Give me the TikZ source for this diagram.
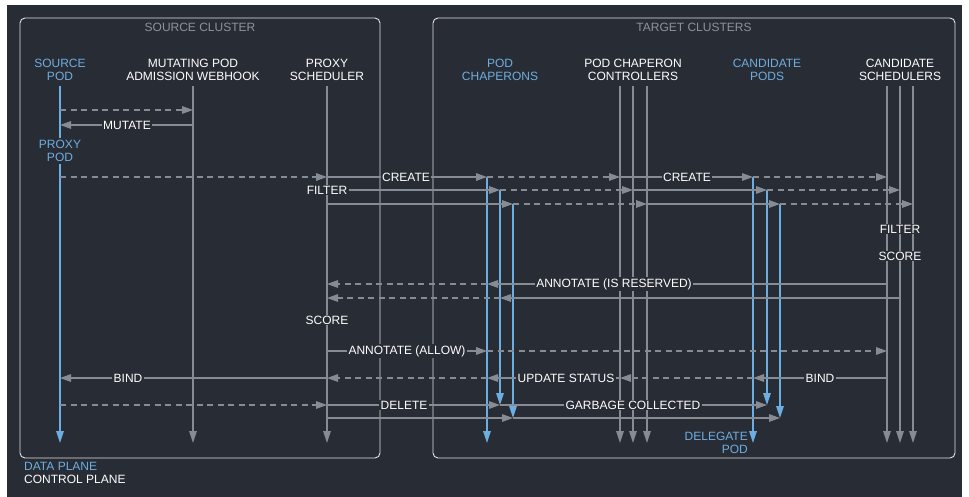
\documentclass[tikz,border=0pt]{standalone}
\usepackage{fontspec}
\setmainfont{Liberation Sans}
\usetikzlibrary{arrows.meta}
\definecolor{bg}{HTML}{282C34}
\definecolor{ln}{HTML}{878B94}
\definecolor{bl}{HTML}{6DAEE2}
\definecolor{bx}{HTML}{E4E4E4}
\definecolor{tt}{HTML}{8E939B}
\tikzset{
  msg/.style={draw=ln, line width=1.4pt, -{Triangle[length=11pt,width=7.5pt]}},
  rmsg/.style={msg, dash pattern=on 6pt off 4.5pt},
  life/.style={draw=ln, line width=1.4pt, -{Triangle[length=12pt,width=7.5pt]}},
  blife/.style={life, draw=bl},
  lbl/.style={fill=bg, text=white, inner xsep=1.5pt, inner ysep=1pt},
  hdr/.style={text=white, align=center, inner sep=0pt},
  bhdr/.style={hdr, text=bl},
  cluster/.style={draw=bx, line width=0.9pt, rounded corners=5pt},
  ctitle/.style={text=tt, inner sep=0pt}
}
\begin{document}
\begin{tikzpicture}[x=1pt, y=-1pt, font=\fontsize{12}{13}\selectfont]
\useasboundingbox (0,0) rectangle (969,497);
\fill[white] (0,0) rectangle (969,497);
\fill[bg] (7,5) rectangle (962,497);

% clusters
\draw[cluster] (20,18) rectangle (380,458);
\draw[cluster] (433,18) rectangle (955,458);
\node[ctitle] (srcT) at (200,27) {SOURCE CLUSTER};
\node[ctitle] (tgtT) at (694,27) {TARGET CLUSTERS};

% lifeline x positions
\coordinate (sp) at (60,0);
\coordinate (mw) at (193,0);
\coordinate (ps) at (327,0);
\coordinate (pc1) at (487,0);
\coordinate (pc2) at (500,0);
\coordinate (pc3) at (513,0);
\coordinate (cc1) at (620,0);
\coordinate (cc2) at (633,0);
\coordinate (cc3) at (647,0);
\coordinate (cp1) at (753,0);
\coordinate (cp2) at (767,0);
\coordinate (cp3) at (780,0);
\coordinate (cs1) at (887,0);
\coordinate (cs2) at (900,0);
\coordinate (cs3) at (913,0);

% headers
\node[bhdr] (hsp) at (60,70) {SOURCE\\POD};
\node[hdr] (hmw) at (193,70) {MUTATING POD\\ADMISSION WEBHOOK};
\node[hdr] (hps) at (327,70) {PROXY\\SCHEDULER};
\node[bhdr] (hpc) at (500,70) {POD\\CHAPERONS};
\node[hdr] (hcc) at (633,70) {POD CHAPERON\\CONTROLLERS};
\node[bhdr] (hcp) at (767,70) {CANDIDATE\\PODS};
\node[hdr] (hcs) at (900,70) {CANDIDATE\\SCHEDULERS};

% lifelines
\draw[blife] (sp |- 0,86) -- (sp |- 0,443);
\draw[life] (mw |- 0,86) -- (mw |- 0,443);
\draw[life] (ps |- 0,86) -- (ps |- 0,443);
\draw[life] (cc1 |- 0,86) -- (cc1 |- 0,443);
\draw[life] (cc2 |- 0,86) -- (cc2 |- 0,443);
\draw[life] (cc3 |- 0,86) -- (cc3 |- 0,443);
\draw[life] (cs1 |- 0,86) -- (cs1 |- 0,443);
\draw[life] (cs2 |- 0,86) -- (cs2 |- 0,443);
\draw[life] (cs3 |- 0,86) -- (cs3 |- 0,443);
\draw[blife] (pc1 |- 0,177) -- (pc1 |- 0,443);
\draw[blife] (pc2 |- 0,190) -- (pc2 |- 0,405);
\draw[blife] (pc3 |- 0,204) -- (pc3 |- 0,418);
\draw[blife] (cp1 |- 0,177) -- (cp1 |- 0,443);
\draw[blife] (cp2 |- 0,190) -- (cp2 |- 0,405);
\draw[blife] (cp3 |- 0,204) -- (cp3 |- 0,418);

% messages
\draw[rmsg] (sp |- 0,110) -- (mw |- 0,110);
\draw[msg] (mw |- 0,125) -- (sp |- 0,125);

\draw[rmsg] (sp |- 0,177) -- (ps |- 0,177);
\draw[msg] (ps |- 0,177) -- (pc1 |- 0,177);
\draw[rmsg] (pc1 |- 0,177) -- (cc1 |- 0,177);
\draw[msg] (cc1 |- 0,177) -- (cp1 |- 0,177);
\draw[rmsg] (cp1 |- 0,177) -- (cs1 |- 0,177);

\draw[msg] (ps |- 0,190) -- (pc2 |- 0,190);
\draw[rmsg] (pc2 |- 0,190) -- (cc2 |- 0,190);
\draw[msg] (cc2 |- 0,190) -- (cp2 |- 0,190);
\draw[rmsg] (cp2 |- 0,190) -- (cs2 |- 0,190);

\draw[msg] (ps |- 0,204) -- (pc3 |- 0,204);
\draw[rmsg] (pc3 |- 0,204) -- (cc3 |- 0,204);
\draw[msg] (cc3 |- 0,204) -- (cp3 |- 0,204);
\draw[rmsg] (cp3 |- 0,204) -- (cs3 |- 0,204);

\draw[msg] (cs1 |- 0,284) -- (pc1 |- 0,284);
\draw[rmsg] (pc1 |- 0,284) -- (ps |- 0,284);
\draw[msg] (cs2 |- 0,298) -- (pc2 |- 0,298);
\draw[rmsg] (pc2 |- 0,298) -- (ps |- 0,298);

\draw[msg] (ps |- 0,351) -- (pc1 |- 0,351);
\draw[rmsg] (pc1 |- 0,351) -- (cs1 |- 0,351);

\draw[msg] (cs1 |- 0,378) -- (cp1 |- 0,378);
\draw[rmsg] (cp1 |- 0,378) -- (cc1 |- 0,378);
\draw[msg] (cc1 |- 0,378) -- (pc1 |- 0,378);
\draw[rmsg] (pc1 |- 0,378) -- (ps |- 0,378);
\draw[msg] (ps |- 0,378) -- (sp |- 0,378);

\draw[rmsg] (sp |- 0,405) -- (ps |- 0,405);
\draw[msg] (ps |- 0,405) -- (pc2 |- 0,405);
\draw[msg] (pc2 |- 0,405) -- (cp2 |- 0,405);

\draw[msg] (ps |- 0,418) -- (pc3 |- 0,418);
\draw[msg] (pc3 |- 0,418) -- (cp3 |- 0,418);

% labels
\node[lbl, text=bl, align=center, inner ysep=2pt] (lpp) at (60,151) {PROXY\\POD};
\node[lbl] (lmut) at (127,125) {MUTATE};
\node[lbl] (lcr1) at (406,177) {CREATE};
\node[lbl] (lcr2) at (687,177) {CREATE};
\node[lbl] (lfi1) at (327,190) {FILTER};
\node[lbl] (lfi2) at (900,229) {FILTER};
\node[lbl] (lsc2) at (900,256) {SCORE};
\node[lbl] (lanr) at (614,284) {ANNOTATE (IS RESERVED)};
\node[lbl] (lsc1) at (327,320) {SCORE};
\node[lbl] (lana) at (407,351) {ANNOTATE (ALLOW)};
\node[lbl] (lbi2) at (820,378) {BIND};
\node[lbl] (lups) at (566,378) {UPDATE STATUS};
\node[lbl] (lbi1) at (128,378) {BIND};
\node[lbl] (ldel) at (404,405) {DELETE};
\node[lbl] (lgc) at (633,405) {GARBAGE COLLECTED};
\node[bhdr, align=right, anchor=east] (ldp) at (748,442.5) {DELEGATE\\POD};

% legend
\node[text=bl, anchor=west, inner sep=0pt] (lgd) at (24,466) {DATA PLANE};
\node[text=white, anchor=west, inner sep=0pt] (lgc2) at (24,479) {CONTROL PLANE};
\end{tikzpicture}
\end{document}
